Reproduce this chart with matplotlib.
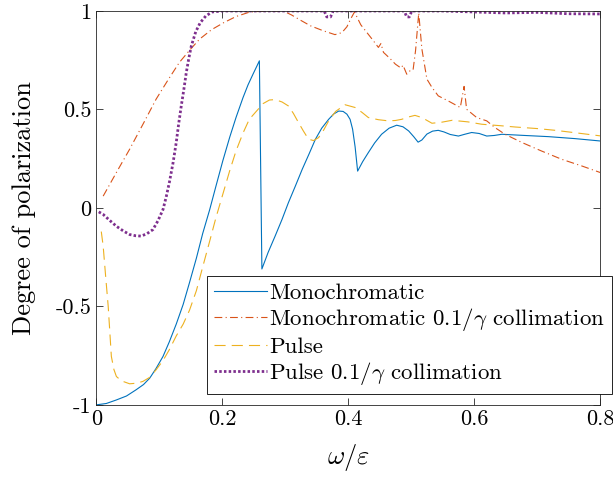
import numpy as np
import matplotlib
matplotlib.use('Agg')
import matplotlib.pyplot as plt

plt.rcParams['font.family'] = 'cmr10'
plt.rcParams['mathtext.fontset'] = 'cm'
plt.rcParams['axes.formatter.use_mathtext'] = True

# Monochromatic (solid)
mono_x = [0.0, 0.016, 0.032, 0.048, 0.063, 0.075, 0.085, 0.095, 0.106, 0.116, 0.127, 0.138,
          0.148, 0.159, 0.169, 0.18, 0.19, 0.201, 0.212, 0.222, 0.233, 0.241, 0.249, 0.255, 0.259,
          0.263, 0.273, 0.284, 0.295, 0.305, 0.316, 0.327, 0.338, 0.348, 0.358, 0.369, 0.377,
          0.385, 0.392, 0.398, 0.403, 0.407, 0.411, 0.415, 0.423, 0.432, 0.442, 0.453, 0.465,
          0.477, 0.487, 0.496, 0.504, 0.511, 0.517, 0.525, 0.534, 0.543, 0.552, 0.562, 0.575,
          0.585, 0.596, 0.608, 0.62, 0.632, 0.644, 0.68, 0.718, 0.76, 0.80]
mono_y = [-1.0, -0.993, -0.975, -0.955, -0.924, -0.897, -0.864, -0.815, -0.754, -0.68, -0.59, -0.49,
          -0.38, -0.255, -0.13, -0.01, 0.11, 0.24, 0.36, 0.46, 0.56, 0.625, 0.68, 0.72, 0.747,
          -0.31, -0.225, -0.143, -0.058, 0.026, 0.11, 0.196, 0.275, 0.349, 0.405, 0.45, 0.477,
          0.492, 0.49, 0.476, 0.45, 0.40, 0.31, 0.187, 0.235, 0.281, 0.33, 0.374, 0.405,
          0.42, 0.412, 0.391, 0.362, 0.334, 0.345, 0.375, 0.39, 0.394, 0.386, 0.373, 0.365,
          0.374, 0.383, 0.378, 0.365, 0.368, 0.374, 0.368, 0.362, 0.352, 0.34]

# Monochromatic 0.1/gamma collimation (dash-dot)
monoc_x = [0.011, 0.032, 0.053, 0.075, 0.095, 0.114, 0.132, 0.148, 0.164, 0.183, 0.202, 0.222,
           0.244, 0.27, 0.297, 0.31, 0.325, 0.34, 0.36, 0.379, 0.39, 0.398, 0.404, 0.41, 0.42,
           0.438, 0.448, 0.452, 0.456, 0.466, 0.475, 0.484, 0.487, 0.493, 0.498, 0.503, 0.507,
           0.512, 0.517, 0.525, 0.533, 0.543, 0.559, 0.578, 0.584, 0.588, 0.604, 0.62, 0.633,
           0.649, 0.676, 0.707, 0.739, 0.771, 0.80]
monoc_y = [0.06, 0.18, 0.298, 0.43, 0.552, 0.65, 0.739, 0.80, 0.857, 0.905, 0.94, 0.972,
           0.995, 1.0, 1.0, 0.98, 0.952, 0.925, 0.9, 0.88, 0.89, 0.92, 0.96, 0.995, 0.93,
           0.857, 0.815, 0.835, 0.79, 0.76, 0.73, 0.71, 0.725, 0.679, 0.696, 0.70, 0.80,
           0.99, 0.807, 0.654, 0.612, 0.569, 0.543, 0.51, 0.617, 0.501, 0.459, 0.442, 0.408,
           0.374, 0.332, 0.289, 0.247, 0.213, 0.18]

# Pulse (dashed)
pulse_x = [0.008, 0.011, 0.015, 0.019, 0.024, 0.028, 0.032, 0.04, 0.053, 0.064, 0.074, 0.085,
           0.095, 0.106, 0.116, 0.127, 0.138, 0.148, 0.159, 0.169, 0.18, 0.19, 0.201, 0.212,
           0.222, 0.233, 0.243, 0.254, 0.265, 0.275, 0.284, 0.295, 0.305, 0.313, 0.321, 0.329,
           0.337, 0.345, 0.353, 0.361, 0.369, 0.38, 0.395, 0.411, 0.422, 0.432, 0.448, 0.464,
           0.475, 0.485, 0.496, 0.506, 0.517, 0.533, 0.548, 0.565, 0.59, 0.612, 0.64, 0.665,
           0.7, 0.729, 0.765, 0.80]
pulse_y = [-0.12, -0.194, -0.35, -0.5, -0.754, -0.82, -0.856, -0.878, -0.893, -0.89, -0.881, -0.86,
           -0.822, -0.775, -0.72, -0.65, -0.59, -0.52, -0.42, -0.30, -0.17, -0.05, 0.07, 0.19,
           0.29, 0.38, 0.45, 0.49, 0.53, 0.548, 0.55, 0.538, 0.518, 0.48, 0.434, 0.39,
           0.349, 0.342, 0.357, 0.395, 0.442, 0.49, 0.524, 0.51, 0.485, 0.459, 0.448, 0.442,
           0.444, 0.45, 0.462, 0.47, 0.459, 0.43, 0.435, 0.445, 0.437, 0.425, 0.418, 0.411,
           0.403, 0.394, 0.38, 0.366]

# Pulse 0.1/gamma collimation (dotted)
pulsec_x = [0.004, 0.011, 0.022, 0.032, 0.043, 0.053, 0.062, 0.071, 0.08, 0.09, 0.098, 0.106,
            0.111, 0.116, 0.122, 0.127, 0.131, 0.135, 0.139, 0.143, 0.147, 0.151, 0.158, 0.165,
            0.174, 0.184, 0.2, 0.25, 0.30, 0.362, 0.366, 0.372, 0.376, 0.45, 0.489, 0.493, 0.497,
            0.501, 0.55, 0.60, 0.65, 0.70, 0.75, 0.80]
pulsec_y = [-0.02, -0.033, -0.065, -0.093, -0.117, -0.135, -0.141, -0.143, -0.132, -0.11, -0.065, -0.008,
            0.055, 0.128, 0.23, 0.332, 0.43, 0.518, 0.6, 0.688, 0.76, 0.823, 0.895, 0.94,
            0.975, 0.995, 1.0, 1.0, 1.0, 1.0, 0.97, 0.97, 1.0, 1.0, 1.0, 0.97, 0.97,
            1.0, 1.0, 0.995, 0.99, 0.993, 0.986, 0.985]

fig = plt.figure(figsize=(6.13, 4.78), dpi=100)
ax = fig.add_axes([0.157, 0.153, 0.822, 0.824])

ax.plot(mono_x, mono_y, color='#0072BD', lw=0.8, label='Monochromatic')
ax.plot(monoc_x, monoc_y, color='#D95319', lw=0.8, linestyle=(0, (7, 3, 1, 3)),
        label=r'Monochromatic $0.1/\gamma$ collimation')
ax.plot(pulse_x, pulse_y, color='#EDB120', lw=0.8, linestyle=(0, (10, 5.5)), label='Pulse')
ax.plot(pulsec_x, pulsec_y, color='#7E2F8E', lw=2.0, linestyle=(0, (0.9, 0.8)),
        label=r'Pulse $0.1/\gamma$ collimation')

ax.set_xlim(0, 0.8)
ax.set_ylim(-1, 1)
ax.set_xticks([0, 0.2, 0.4, 0.6, 0.8])
ax.set_xticklabels(['0', '0.2', '0.4', '0.6', '0.8'])
ax.set_yticks([-1, -0.5, 0, 0.5, 1])
ax.set_yticklabels(['-1', '-0.5', '0', '0.5', '1'])
ax.tick_params(direction='in', top=True, right=True, length=5, width=0.6,
               labelsize=16, colors='#262626', labelcolor='black')
for s in ax.spines.values():
    s.set_linewidth(0.6)
    s.set_color('#262626')

ax.set_xlabel(r'$\omega/\varepsilon$', fontsize=19, labelpad=9)
ax.set_ylabel('Degree of polarization', fontsize=19, labelpad=14)

leg = ax.legend(loc='lower left', bbox_to_anchor=(0.338, 0.176), bbox_transform=fig.transFigure,
                borderaxespad=0, fontsize=16.5, frameon=True, fancybox=False, framealpha=1,
                edgecolor='black', handlelength=2.3, handletextpad=0.1, labelspacing=0.15,
                borderpad=0.3)
leg.get_frame().set_linewidth(0.6)

fig.savefig('out.png', dpi=100)
